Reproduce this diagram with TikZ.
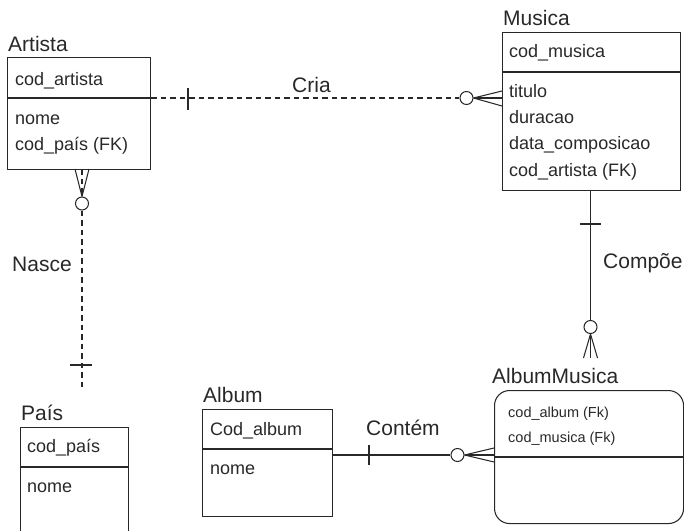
\documentclass[tikz,border=0pt]{standalone}
\usepackage{fontspec}
\setmainfont{Liberation Sans}
\definecolor{ink}{RGB}{40,40,40}
\begin{document}
\begin{tikzpicture}[x=1pt,y=-1pt,
  ln/.style={draw=ink,line width=1.05pt},
  ent/.style={draw=ink,line width=1.05pt,rectangle,anchor=north west,inner sep=0pt,minimum width=#1},
  title/.style={anchor=base west,inner sep=0pt,text=ink,font=\fontsize{21}{25}\selectfont},
  attr/.style={anchor=base west,inner sep=0pt,text=ink,font=\fontsize{18}{22}\selectfont},
  small/.style={anchor=base west,inner sep=0pt,text=ink,font=\fontsize{14.5}{18}\selectfont},
  lbl/.style={anchor=base west,inner sep=0pt,text=ink,font=\fontsize{21}{25}\selectfont},
  zero/.style={draw=ink,line width=1.05pt,circle,fill=white,inner sep=0pt,minimum size=13pt},
  dsh/.style={ln,dash pattern=on 5.5pt off 4pt}
]
\useasboundingbox (0,0) rectangle (684,530);

% ---------- Artista ----------
\node[title] (tArtista) at (8,51) {Artista};
\node[ent=143pt,minimum height=112pt] (artista) at (7,57) {};
\draw[ln] (7,98) -- (150,98);
\node[attr] (aa1) at (15,85) {cod\_artista};
\node[attr] (aa2) at (15,124) {nome};
\node[attr] (aa3) at (15,150) {cod\_país (FK)};

% ---------- Musica ----------
\node[title] (tMusica) at (503,25) {Musica};
\node[ent=178pt,minimum height=158pt] (musica) at (502,32) {};
\draw[ln] (502,72) -- (680,72);
\node[attr] (m1) at (509,57) {cod\_musica};
\node[attr] (m2) at (509,97) {titulo};
\node[attr] (m3) at (509,123) {duracao};
\node[attr] (m4) at (509,149) {data\_composicao};
\node[attr] (m5) at (509,176) {cod\_artista (FK)};

% ---------- AlbumMusica ----------
\node[title] (tAM) at (492,383) {AlbumMusica};
\node[ent=189pt,minimum height=133pt,rounded corners=15pt] (am) at (494,390) {};
\draw[ln] (494,457) -- (683,457);
\node[small] (am1) at (508,417) {cod\_album (Fk)};
\node[small] (am2) at (508,442) {cod\_musica (Fk)};

% ---------- Album ----------
\node[title] (tAlbum) at (203,402) {Album};
\node[ent=130pt,minimum height=107pt] (album) at (202,409) {};
\draw[ln] (202,449) -- (332,449);
\node[attr] (al1) at (210,435) {Cod\_album};
\node[attr] (al2) at (210,474) {nome};

% ---------- País ----------
\node[title] (tPais) at (21,420) {País};
\node[ent=108pt,minimum height=113pt] (pais) at (20,427) {};
\draw[ln] (20,467) -- (128,467);
\node[attr] (p1) at (27,452) {cod\_país};
\node[attr] (p2) at (27,492) {nome};

% ---------- Cria (Artista -- Musica) ----------
\coordinate (criaA) at (artista.north east |- 0,98);
\coordinate (criaM) at (musica.west |- 0,98);
\node[zero] (criaO) at (466.5,98) {};
\draw[dsh] (criaA) -- (criaO);
\draw[ln] (criaO.east) -- (criaM);
\draw[ln] (criaO.east) -- ([yshift=-8pt]criaM);
\draw[ln] (criaO.east) -- ([yshift=7pt]criaM);
\draw[ln] (188,88) -- (188,110);
\node[lbl] (lCria) at (292,92) {Cria};

% ---------- Nasce (Artista -- País) ----------
\coordinate (nasA) at (82,169);
\coordinate (nasP) at (82,388);
\node[zero] (nasO) at (82,203.5) {};
\draw[dsh] (nasA) -- (nasO);
\draw[ln] (nasO.north) -- ([xshift=-7pt]nasA);
\draw[ln] (nasO.north) -- ([xshift=7pt]nasA);
\draw[dsh] (nasO.south) -- (nasP);
\draw[ln] (70,365) -- (92,365);
\node[lbl] (lNasce) at (12,271) {Nasce};

% ---------- Compõe (Musica -- AlbumMusica) ----------
\coordinate (compM) at (590.5,190);
\coordinate (compA) at (590.5,358);
\node[zero] (compO) at (590.5,327) {};
\draw[ln] (compM) -- (compO);
\draw[ln] (compO.south) -- (compA);
\draw[ln] (compO.south) -- ([xshift=-7pt]compA);
\draw[ln] (compO.south) -- ([xshift=7pt]compA);
\draw[ln] (580,224) -- (601,224);
\node[lbl] (lComp) at (603,268) {Compõe};

% ---------- Contém (Album -- AlbumMusica) ----------
\coordinate (contA) at (album.east |- 0,455);
\coordinate (contM) at (am.west |- 0,455);
\node[zero] (contO) at (457.5,455) {};
\draw[ln] (contA) -- (contO);
\draw[ln] (contO.east) -- (contM);
\draw[ln] (contO.east) -- ([yshift=-7pt]contM);
\draw[ln] (contO.east) -- ([yshift=7pt]contM);
\draw[ln] (369,445) -- (369,465);
\node[lbl] (lCont) at (366,435) {Contém};
\end{tikzpicture}
\end{document}
